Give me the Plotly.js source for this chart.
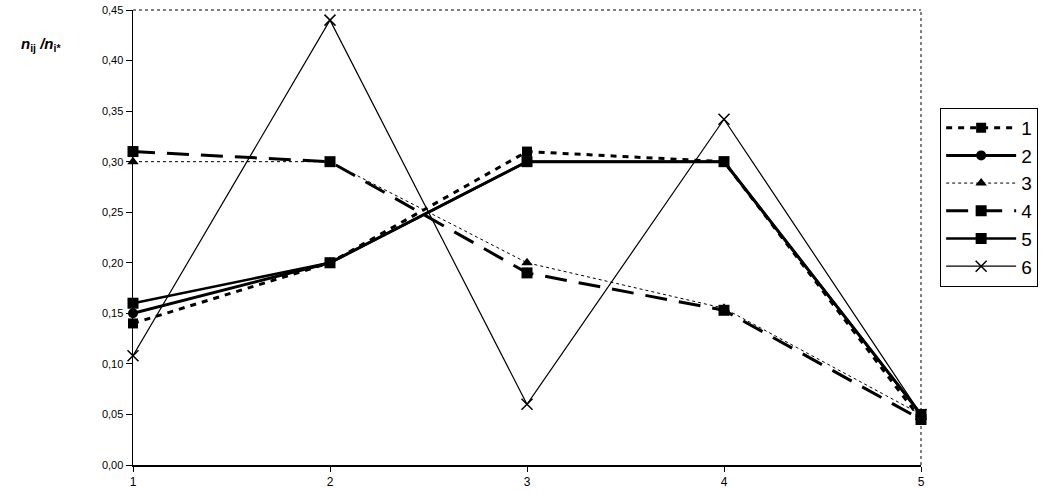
<!DOCTYPE html>
<html>
<head>
<meta charset="utf-8">
<script src="https://cdn.plot.ly/plotly-3.0.1.min.js"></script>
<style>html,body{margin:0;padding:0;background:#fff;}#chart{width:1047px;height:493px;}</style>
</head>
<body>
<div id="chart"></div>
<script>
var categories = [1, 2, 3, 4, 5];
var s1 = [0.14, 0.20, 0.31, 0.30, 0.045];
var s2 = [0.15, 0.20, 0.30, 0.30, 0.05];
var s3 = [0.30, 0.30, 0.20, 0.155, 0.05];
var s4 = [0.31, 0.30, 0.19, 0.153, 0.045];
var s5 = [0.16, 0.20, 0.30, 0.30, 0.05];
var s6 = [0.108, 0.44, 0.06, 0.342, 0.05];
var seriesNames = ['1', '2', '3', '4', '5', '6'];
var yTicks = [0, 0.05, 0.10, 0.15, 0.20, 0.25, 0.30, 0.35, 0.40, 0.45];
var yTickText = ['0,00', '0,05', '0,10', '0,15', '0,20', '0,25', '0,30', '0,35', '0,40', '0,45'];

var traces = [
  {x: categories, y: s1, name: seriesNames[0], mode: 'lines+markers',
   line: {color: '#000', width: 3, dash: '6px,6px'}, marker: {symbol: 'square', size: 10, color: '#000'}},
  {x: categories, y: s2, name: seriesNames[1], mode: 'lines+markers',
   line: {color: '#000', width: 3}, marker: {symbol: 'circle', size: 10, color: '#000'}},
  {x: categories, y: s3, name: seriesNames[2], mode: 'lines+markers',
   line: {color: '#000', width: 1, dash: 'dot'}, marker: {symbol: 'triangle-up', size: 10, color: '#000'}},
  {x: categories, y: s4, name: seriesNames[3], mode: 'lines+markers',
   line: {color: '#000', width: 3, dash: '22px,12px'}, marker: {symbol: 'square', size: 11, color: '#000'}},
  {x: categories, y: s5, name: seriesNames[4], mode: 'lines+markers',
   line: {color: '#000', width: 2.5}, marker: {symbol: 'square', size: 11, color: '#000'}},
  {x: categories, y: s6, name: seriesNames[5], mode: 'lines+markers',
   line: {color: '#000', width: 1.2}, marker: {symbol: 'x-thin-open', size: 11, color: '#000', line: {color: '#000', width: 1.5}}}
];

var layout = {
  width: 1047, height: 493,
  margin: {l: 133, r: 125, t: 10, b: 28},
  paper_bgcolor: '#fff', plot_bgcolor: '#fff',
  font: {family: 'Liberation Sans, Arial, sans-serif', color: '#000'},
  showlegend: true,
  legend: {x: 1.023, y: 0.785, xanchor: 'left', yanchor: 'top', itemwidth: 70,
    font: {size: 19, family: 'Liberation Sans, Arial, sans-serif', color: '#000'},
    bordercolor: '#000', borderwidth: 1, bgcolor: '#fff', tracegroupgap: 0},
  xaxis: {range: [1, 5], tickvals: categories, ticktext: categories.map(String),
    showgrid: false, zeroline: false, showline: true, linecolor: '#000', linewidth: 1.5,
    ticks: 'outside', ticklen: 5, tickcolor: '#000', tickfont: {size: 12}},
  yaxis: {range: [0, 0.45], tickvals: yTicks, ticktext: yTickText,
    showgrid: false, zeroline: false, showline: true, linecolor: '#000', linewidth: 1.5,
    ticks: 'outside', ticklen: 6, tickcolor: '#000', tickfont: {size: 11}},
  shapes: [
    {type: 'line', xref: 'paper', yref: 'paper', x0: 0, x1: 1, y0: 1, y1: 1, line: {color: '#000', width: 1, dash: 'dot'}},
    {type: 'line', xref: 'paper', yref: 'paper', x0: 1, x1: 1, y0: 0, y1: 1, line: {color: '#000', width: 1, dash: 'dot'}}
  ],
  annotations: [
    {xref: 'paper', yref: 'paper', x: -0.145, y: 0.925, xanchor: 'left', yanchor: 'middle', showarrow: false,
     text: '<b><i>n</i></b><sub><b>ij</b></sub><b><i> /n</i></b><sub><b>i*</b></sub>', font: {size: 15, color: '#000'}}
  ]
};

Plotly.newPlot('chart', traces.map(function(t){ t.cliponaxis = false; t.type = 'scatter'; return t; }), layout, {displayModeBar: false, staticPlot: true});
</script>
</body>
</html>
